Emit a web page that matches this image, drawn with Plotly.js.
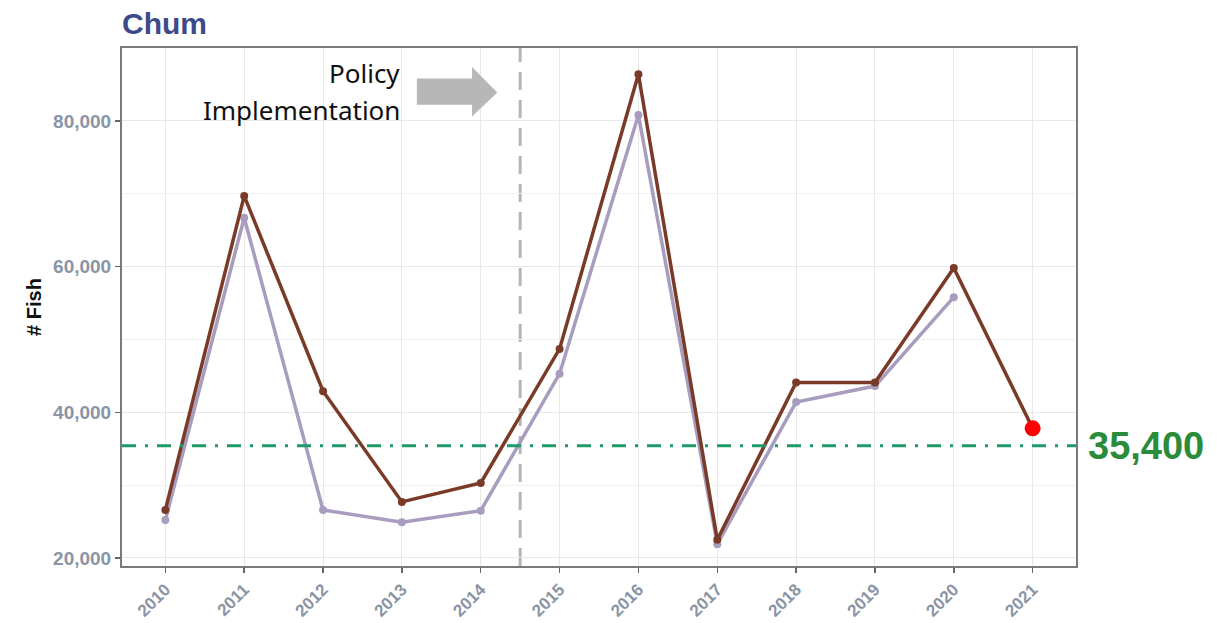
<!DOCTYPE html>
<html>
<head>
<meta charset="utf-8">
<script src="https://cdn.plot.ly/plotly-3.0.1.min.js"></script>
<style>html,body{margin:0;padding:0;background:#fff;}#chart{width:1226px;height:623px;}</style>
</head>
<body>
<div id="chart"></div>
<script>
const years = [2010, 2011, 2012, 2013, 2014, 2015, 2016, 2017, 2018, 2019, 2020, 2021];
const totalFish = [26600, 69700, 42900, 27700, 30300, 48700, 86400, 22500, 44100, 44100, 59800, 37800];
const otherFish = [25200, 66700, 26600, 24900, 26500, 45300, 80800, 21900, 41400, 43600, 55800, null];
const threshold = 35400;
const thresholdLabel = "35,400";
const policyYear = 2014.5;
const yTicks = [20000, 40000, 60000, 80000];
const yTickLabels = ["20,000", "40,000", "60,000", "80,000"];

const lastIdx = years.length - 1;

const traces = [
  {x: years, y: otherFish, type: 'scatter', mode: 'lines+markers',
   line: {color: '#a89cbf', width: 3.5}, marker: {color: '#a89cbf', size: 8}, hoverinfo: 'x+y'},
  {x: years, y: totalFish, type: 'scatter', mode: 'lines+markers',
   line: {color: '#7a3a28', width: 3.5}, marker: {color: '#7a3a28', size: 8}, hoverinfo: 'x+y'},
  {x: [years[lastIdx]], y: [totalFish[lastIdx]], type: 'scatter', mode: 'markers',
   marker: {color: '#ff0000', size: 16}, hoverinfo: 'x+y'}
];

const xTickFont = {family: 'Liberation Sans, Arial, sans-serif', size: 17, color: '#8a94a5', weight: 'bold'};
const yTickFont = {family: 'Liberation Sans, Arial, sans-serif', size: 19, color: '#8a94a5', weight: 'bold'};

const layout = {
  width: 1226, height: 623,
  margin: {l: 122, r: 150, t: 48, b: 57},
  paper_bgcolor: '#ffffff', plot_bgcolor: '#ffffff',
  showlegend: false,
  title: {text: '<b>Chum</b>', font: {family: 'Liberation Sans, Arial, sans-serif', size: 30, color: '#3d4a8a'},
          xref: 'paper', x: 0, xanchor: 'left', yref: 'container', y: 0.962, yanchor: 'middle'},
  xaxis: {
    range: [2009.45, 2021.55], tickmode: 'array', tickvals: years, ticktext: years.map(String),
    tickangle: -45, tickfont: xTickFont, ticks: 'outside', ticklen: 5, tickcolor: '#666', tickwidth: 1.5,
    showgrid: true, gridcolor: '#e8e8e8', gridwidth: 1, zeroline: false,
    showline: true, linecolor: '#7a7a7a', linewidth: 2, mirror: true
  },
  yaxis: {
    range: [18900, 90000], tickmode: 'array', tickvals: yTicks, ticktext: yTickLabels,
    tickfont: yTickFont, ticks: 'outside', ticklen: 5, tickcolor: '#666', tickwidth: 1.5,
    showgrid: true, gridcolor: '#e8e8e8', gridwidth: 1, zeroline: false,
    minor: {tickmode: 'linear', tick0: 10000, dtick: 10000, showgrid: true, gridcolor: '#f1f1f1', gridwidth: 1, ticks: ''},
    showline: true, linecolor: '#7a7a7a', linewidth: 2, mirror: true,
    title: {text: '<b># Fish</b>', font: {family: 'Liberation Sans, Arial, sans-serif', size: 20, color: '#111'}, standoff: 6}
  },
  shapes: [
    {type: 'line', xref: 'x', yref: 'paper', x0: policyYear, x1: policyYear, y0: 0, y1: 1,
     line: {color: '#b5b5b5', width: 3, dash: '18px,10px'}, layer: 'below'},
    {type: 'line', xref: 'paper', yref: 'y', x0: 0, x1: 1, y0: threshold, y1: threshold,
     line: {color: '#1d9a68', width: 3, dash: '14px,9px,3px,9px'}},
    {type: 'path', xref: 'x', yref: 'y', layer: 'above',
     path: 'M 2013.19 85800 L 2013.89 85800 L 2013.89 87400 L 2014.21 83900 L 2013.89 80600 L 2013.89 82200 L 2013.19 82200 Z',
     fillcolor: '#b7b7b7', line: {width: 0}}
  ],
  annotations: [
    {xref: 'x', yref: 'y', x: 2013.0, y: 86600, text: 'Policy', showarrow: false, xanchor: 'right', yanchor: 'middle',
     font: {family: 'Noto Sans, Open Sans, sans-serif', size: 26, color: '#111'}},
    {xref: 'x', yref: 'y', x: 2013.0, y: 81500, text: 'Implementation', showarrow: false, xanchor: 'right', yanchor: 'middle',
     font: {family: 'Noto Sans, Open Sans, sans-serif', size: 26, color: '#111'}},
    {xref: 'paper', yref: 'y', x: 1, xshift: 10, y: threshold, text: '<b>' + thresholdLabel + '</b>', showarrow: false,
     xanchor: 'left', yanchor: 'middle', font: {family: 'Liberation Sans, Arial, sans-serif', size: 38, color: '#2a8c3a'}}
  ]
};

Plotly.newPlot('chart', traces, layout, {displayModeBar: false, staticPlot: true});
</script>
</body>
</html>
